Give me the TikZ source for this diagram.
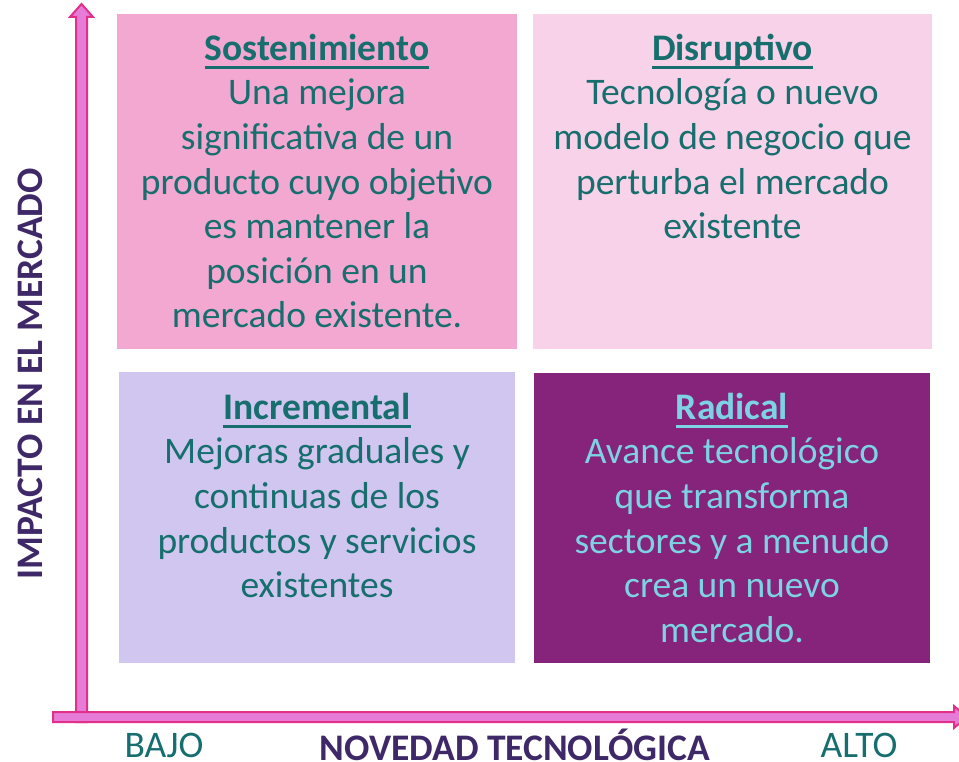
\documentclass[tikz,border=0pt]{standalone}
\usepackage{fontspec}
\setmainfont{Carlito}
\usepackage{tikz}
\usetikzlibrary{positioning}

\definecolor{sostcol}{HTML}{F2A8D0}
\definecolor{disrcol}{HTML}{F8D2E8}
\definecolor{increcol}{HTML}{D0C6F0}
\definecolor{radicol}{HTML}{86237A}
\definecolor{textcol}{HTML}{166E6E}
\definecolor{radtext}{HTML}{7DD3E3}
\definecolor{ejecol}{HTML}{E0308A}
\definecolor{ejefill}{HTML}{E67BD8}
\definecolor{ejetext}{HTML}{3F2868}

\newcommand{\titulo}[1]{\setbox0\hbox{\bfseries #1}\rlap{\rule[-8.5pt]{\wd0}{2.6pt}}\box0}

\tikzset{
 caja/.style={inner sep=0pt, minimum width=398, minimum height=335},
 texto/.style={align=center, inner sep=0pt, text=textcol, font=\fontsize{37.5}{44.6}\selectfont},
 eje/.style={draw=ejecol, line width=2pt, fill=ejefill, line join=miter},
 etiq/.style={inner sep=0pt, font=\fontsize{37.5}{44}\selectfont}
}

\begin{document}
\begin{tikzpicture}[x=1pt,y=-1pt]
 \useasboundingbox (0,0) rectangle (959,762); %全体の大きさ
 \coordinate (O) at (81.5,717); %原点O
 \node[caja, fill=sostcol, minimum width=400] (sost) at (317,181.5) {}; %左上
 \node[caja, fill=disrcol, minimum width=399] (disr) at (732.5,181.5) {}; %右上
 \node[caja, fill=increcol, minimum width=396, minimum height=291] (incr) at (317,517.5) {}; %左下
 \node[caja, fill=radicol, minimum width=396, minimum height=290] (radi) at (732,518) {}; %右下
 \node[texto, below=20pt of sost.north] (tsost) {\titulo{Sostenimiento}\\Una mejora\\significativa de un\\producto cuyo objetivo\\es mantener la\\posición en un\\mercado existente.}; %左上の文
 \node[texto, below=20pt of disr.north] (tdisr) {\titulo{Disruptivo}\\Tecnología o nuevo\\modelo de negocio que\\perturba el mercado\\existente}; %右上の文
 \node[texto, below=21pt of incr.north] (tincr) {\titulo{Incremental}\\Mejoras graduales y\\continuas de los\\productos y servicios\\existentes}; %左下の文
 \node[texto, text=radtext, below=20pt of radi.north] (tradi) {\titulo{Radical}\\Avance tecnológico\\que transforma\\sectores y a menudo\\crea un nuevo\\mercado.}; %右下の文
 \draw[eje] (76,722)--(76,17)--(70,17)--(81.5,4)--(93,17)--(87,17)--(87,722)--cycle; %縦軸
 \draw[eje] (53,712)--(954,712)--(954,706)--(967,717)--(954,728)--(954,722)--(53,722)--cycle; %横軸
 \node[etiq, rotate=90, text=ejetext, font=\fontsize{37.5}{44}\selectfont\bfseries] (ylab) at (30,374) {IMPACTO EN EL MERCADO}; %縦軸のラベル
 \node[etiq, text=ejetext, font=\fontsize{37.5}{44}\selectfont\bfseries] (xlab) at (515,745) {NOVEDAD TECNOLÓGICA}; %横軸のラベル
 \node[etiq, text=textcol, anchor=base] (bajo) at (164,757) {BAJO}; %低
 \node[etiq, text=textcol, anchor=base] (alto) at (859,757) {ALTO}; %高
\end{tikzpicture}
\end{document}
